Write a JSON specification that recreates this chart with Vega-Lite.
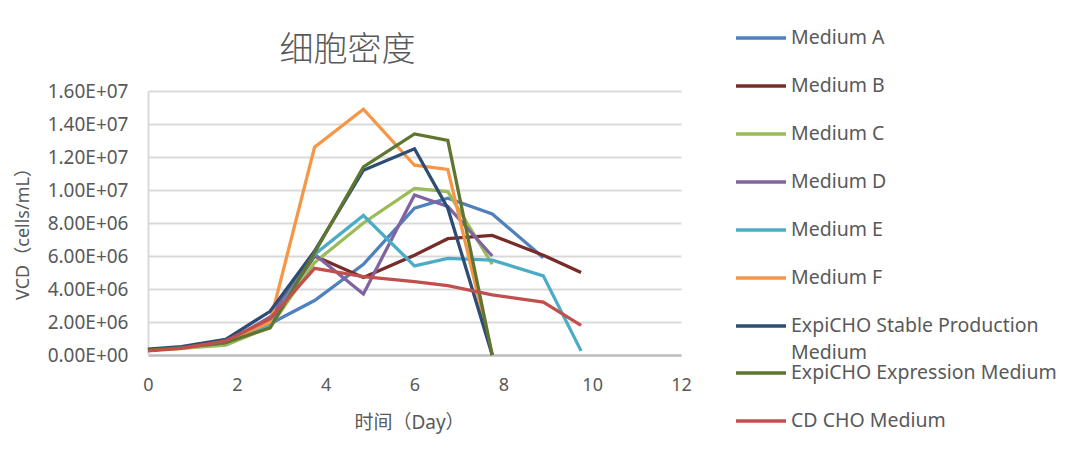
{
  "$schema": "https://vega.github.io/schema/vega-lite/v6.json",
  "autosize": {"type": "none"},
  "padding": {"left": 148, "top": 91, "right": 399, "bottom": 105},
  "width": 533,
  "height": 264,
  "background": "white",
  "config": {
    "font": "Noto Sans, Noto Sans CJK SC",
    "view": {"stroke": null},
    "legend": {
      "title": null,
      "orient": "none",
      "padding": 0,
      "symbolType": "M-1,0H1M1,0.56",
      "symbolSize": 2500,
      "symbolStrokeWidth": 3.5,
      "symbolFillColor": "transparent",
      "rowPadding": 0,
      "labelOffset": 3,
      "labelFontSize": 19.5,
      "labelColor": "#595959",
      "labelLimit": 400,
      "labelLineHeight": 27
    }
  },
  "title": {
    "text": "细胞密度",
    "fontSize": 34,
    "fontWeight": 300,
    "color": "#595959",
    "font": "Noto Sans CJK SC",
    "anchor": "middle",
    "frame": "group",
    "dx": -67,
    "dy": 113,
    "offset": 22,
    "baseline": "bottom"
  },
  "data": {
    "values": [
      {"series": "Medium A", "day": 0, "vcd": 300000},
      {"series": "Medium A", "day": 0.75, "vcd": 450000},
      {"series": "Medium A", "day": 1.75, "vcd": 700000},
      {"series": "Medium A", "day": 2.75, "vcd": 1900000},
      {"series": "Medium A", "day": 3.75, "vcd": 3300000},
      {"series": "Medium A", "day": 4.85, "vcd": 5500000},
      {"series": "Medium A", "day": 6.0, "vcd": 8900000},
      {"series": "Medium A", "day": 6.75, "vcd": 9500000},
      {"series": "Medium A", "day": 7.75, "vcd": 8550000},
      {"series": "Medium A", "day": 8.9, "vcd": 5900000},

      {"series": "Medium B", "day": 0, "vcd": 300000},
      {"series": "Medium B", "day": 0.75, "vcd": 450000},
      {"series": "Medium B", "day": 1.75, "vcd": 800000},
      {"series": "Medium B", "day": 2.75, "vcd": 2000000},
      {"series": "Medium B", "day": 3.75, "vcd": 6000000},
      {"series": "Medium B", "day": 4.85, "vcd": 4700000},
      {"series": "Medium B", "day": 6.0, "vcd": 6050000},
      {"series": "Medium B", "day": 6.75, "vcd": 7050000},
      {"series": "Medium B", "day": 7.75, "vcd": 7250000},
      {"series": "Medium B", "day": 8.9, "vcd": 6050000},
      {"series": "Medium B", "day": 9.75, "vcd": 5000000},

      {"series": "Medium C", "day": 0, "vcd": 300000},
      {"series": "Medium C", "day": 0.75, "vcd": 400000},
      {"series": "Medium C", "day": 1.75, "vcd": 600000},
      {"series": "Medium C", "day": 2.75, "vcd": 1700000},
      {"series": "Medium C", "day": 3.75, "vcd": 5600000},
      {"series": "Medium C", "day": 4.85, "vcd": 8000000},
      {"series": "Medium C", "day": 6.0, "vcd": 10100000},
      {"series": "Medium C", "day": 6.75, "vcd": 9900000},
      {"series": "Medium C", "day": 7.75, "vcd": 5500000},

      {"series": "Medium D", "day": 0, "vcd": 300000},
      {"series": "Medium D", "day": 0.75, "vcd": 450000},
      {"series": "Medium D", "day": 1.75, "vcd": 750000},
      {"series": "Medium D", "day": 2.75, "vcd": 2300000},
      {"series": "Medium D", "day": 3.75, "vcd": 6100000},
      {"series": "Medium D", "day": 4.85, "vcd": 3700000},
      {"series": "Medium D", "day": 6.0, "vcd": 9700000},
      {"series": "Medium D", "day": 6.75, "vcd": 9000000},
      {"series": "Medium D", "day": 7.75, "vcd": 6000000},

      {"series": "Medium E", "day": 0, "vcd": 300000},
      {"series": "Medium E", "day": 0.75, "vcd": 450000},
      {"series": "Medium E", "day": 1.75, "vcd": 750000},
      {"series": "Medium E", "day": 2.75, "vcd": 1900000},
      {"series": "Medium E", "day": 3.75, "vcd": 6100000},
      {"series": "Medium E", "day": 4.85, "vcd": 8450000},
      {"series": "Medium E", "day": 6.0, "vcd": 5400000},
      {"series": "Medium E", "day": 6.75, "vcd": 5850000},
      {"series": "Medium E", "day": 7.75, "vcd": 5750000},
      {"series": "Medium E", "day": 8.9, "vcd": 4800000},
      {"series": "Medium E", "day": 9.75, "vcd": 250000},

      {"series": "Medium F", "day": 0, "vcd": 300000},
      {"series": "Medium F", "day": 0.75, "vcd": 400000},
      {"series": "Medium F", "day": 1.75, "vcd": 800000},
      {"series": "Medium F", "day": 2.75, "vcd": 2000000},
      {"series": "Medium F", "day": 3.75, "vcd": 12600000},
      {"series": "Medium F", "day": 4.85, "vcd": 14900000},
      {"series": "Medium F", "day": 6.0, "vcd": 11500000},
      {"series": "Medium F", "day": 6.75, "vcd": 11250000},
      {"series": "Medium F", "day": 7.75, "vcd": 0},

      {"series": "ExpiCHO Stable Production Medium", "day": 0, "vcd": 350000},
      {"series": "ExpiCHO Stable Production Medium", "day": 0.75, "vcd": 500000},
      {"series": "ExpiCHO Stable Production Medium", "day": 1.75, "vcd": 950000},
      {"series": "ExpiCHO Stable Production Medium", "day": 2.75, "vcd": 2650000},
      {"series": "ExpiCHO Stable Production Medium", "day": 3.75, "vcd": 6300000},
      {"series": "ExpiCHO Stable Production Medium", "day": 4.85, "vcd": 11200000},
      {"series": "ExpiCHO Stable Production Medium", "day": 6.0, "vcd": 12500000},
      {"series": "ExpiCHO Stable Production Medium", "day": 6.75, "vcd": 8900000},
      {"series": "ExpiCHO Stable Production Medium", "day": 7.75, "vcd": 0},

      {"series": "ExpiCHO Expression Medium", "day": 0, "vcd": 300000},
      {"series": "ExpiCHO Expression Medium", "day": 0.75, "vcd": 450000},
      {"series": "ExpiCHO Expression Medium", "day": 1.75, "vcd": 750000},
      {"series": "ExpiCHO Expression Medium", "day": 2.75, "vcd": 1650000},
      {"series": "ExpiCHO Expression Medium", "day": 3.75, "vcd": 6200000},
      {"series": "ExpiCHO Expression Medium", "day": 4.85, "vcd": 11400000},
      {"series": "ExpiCHO Expression Medium", "day": 6.0, "vcd": 13400000},
      {"series": "ExpiCHO Expression Medium", "day": 6.75, "vcd": 13000000},
      {"series": "ExpiCHO Expression Medium", "day": 7.75, "vcd": 0},

      {"series": "CD CHO Medium", "day": 0, "vcd": 250000},
      {"series": "CD CHO Medium", "day": 0.75, "vcd": 400000},
      {"series": "CD CHO Medium", "day": 1.75, "vcd": 850000},
      {"series": "CD CHO Medium", "day": 2.75, "vcd": 2200000},
      {"series": "CD CHO Medium", "day": 3.75, "vcd": 5250000},
      {"series": "CD CHO Medium", "day": 4.85, "vcd": 4750000},
      {"series": "CD CHO Medium", "day": 6.0, "vcd": 4450000},
      {"series": "CD CHO Medium", "day": 6.75, "vcd": 4200000},
      {"series": "CD CHO Medium", "day": 7.75, "vcd": 3650000},
      {"series": "CD CHO Medium", "day": 8.9, "vcd": 3200000},
      {"series": "CD CHO Medium", "day": 9.75, "vcd": 1800000}
    ]
  },
  "encoding": {
    "x": {
      "field": "day",
      "type": "quantitative",
      "scale": {"domain": [0, 12], "nice": false, "zero": true},
      "axis": {
        "values": [0, 2, 4, 6, 8, 10, 12],
        "title": "时间（Day）",
        "grid": false,
        "ticks": false,
        "domainColor": "#bfbfbf",
        "domainWidth": 2.5,
        "labelFontSize": 18,
        "labelColor": "#595959",
        "labelPadding": 21,
        "labelFlush": false,
        "titleFontSize": 19,
        "titleFontWeight": "normal",
        "titleColor": "#595959",
        "titleY": 67,
        "titleX": 261,
        "titleBaseline": "middle",
        "titleAlign": "center"
      }
    },
    "y": {
      "field": "vcd",
      "type": "quantitative",
      "scale": {"domain": [0, 16000000], "nice": false},
      "axis": {
        "values": [0, 2000000, 4000000, 6000000, 8000000, 10000000, 12000000, 14000000, 16000000],
        "labelExpr": "split(format(datum.value, '.2e'), 'e')[0] + 'E+' + (abs(toNumber(split(format(datum.value, '.2e'), 'e')[1])) < 10 ? '0' : '') + abs(toNumber(split(format(datum.value, '.2e'), 'e')[1]))",
        "title": "VCD（cells/mL）",
        "grid": true,
        "gridColor": "#d9d9d9",
        "gridWidth": 2,
        "ticks": false,
        "domainColor": "#d9d9d9",
        "domainWidth": 2,
        "labelFontSize": 19,
        "labelColor": "#595959",
        "labelPadding": 20,
        "labelFlush": false,
        "titleFontSize": 18,
        "titleFontWeight": "normal",
        "titleColor": "#595959",
        "titleX": -125,
        "titleY": 138,
        "titleAngle": -90,
        "titleBaseline": "middle",
        "titleAlign": "center"
      }
    },
    "order": {"field": "day", "type": "quantitative"}
  },
  "layer": [
    {
      "transform": [{"filter": "datum.series != 'ExpiCHO Expression Medium' && datum.series != 'CD CHO Medium'"}],
      "mark": {"type": "line", "strokeWidth": 3.3, "strokeJoin": "miter", "clip": false},
      "encoding": {
        "color": {
          "field": "series",
          "type": "nominal",
          "scale": {
            "domain": ["Medium A", "Medium B", "Medium C", "Medium D", "Medium E", "Medium F", "ExpiCHO Stable Production Medium"],
            "range": ["#4F81BD", "#772C2A", "#9BBB59", "#8064A2", "#4BACC6", "#F79646", "#2C4D75"]
          },
          "legend": {
            "legendX": 586,
            "legendY": -80,
            "labelExpr": "datum.label == 'ExpiCHO Stable Production Medium' ? ['ExpiCHO Stable Production', 'Medium'] : datum.label",
            "encode": {"labels": {"update": {"lineHeight": {"value": 27}}}}
          }
        }
      }
    },
    {
      "transform": [{"filter": "datum.series == 'ExpiCHO Expression Medium' || datum.series == 'CD CHO Medium'"}],
      "mark": {"type": "line", "strokeWidth": 3.3, "strokeJoin": "miter", "clip": false},
      "encoding": {
        "color": {
          "field": "series",
          "type": "nominal",
          "scale": {
            "domain": ["ExpiCHO Expression Medium", "CD CHO Medium"],
            "range": ["#5F7530", "#C0504D"]
          },
          "legend": {
            "legendX": 586,
            "legendY": 255
          }
        }
      }
    }
  ],
  "resolve": {"scale": {"color": "independent"}, "legend": {"color": "independent"}}
}
